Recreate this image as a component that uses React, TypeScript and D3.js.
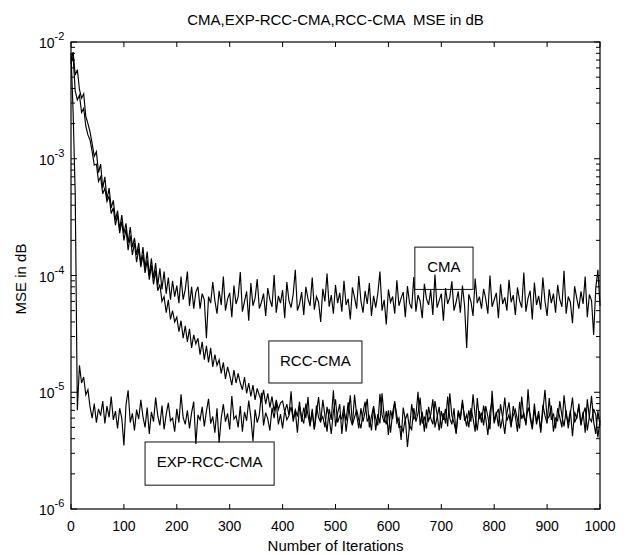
import * as d3 from "d3";

// MSE curves sampled every 4 iterations, values in units of 1e-6
const STEP = 4;

const cmaMse = [
  7000, 8200, 5200, 5800, 3900, 3300, 3600, 2300, 2000, 1700,
  1350, 1050, 1150, 760, 900, 560, 700, 450, 560, 380,
  440, 300, 360, 250, 330, 230, 280, 190, 260, 175,
  210, 150, 190, 125, 175, 115, 160, 100, 140, 95,
  128, 82, 115, 76, 108, 70, 96, 62, 90, 66,
  82, 58, 98, 62, 76, 108, 55, 80, 52, 72,
  80, 52, 70, 62, 29, 66, 58, 88, 61, 47,
  74, 56, 98, 50, 63, 71, 44, 82, 57, 66,
  107, 49, 60, 73, 41, 86, 55, 64, 93, 52,
  59, 70, 45, 78, 62, 54, 101, 48, 67, 58,
  75, 43, 88, 61, 53, 69, 112, 50, 57, 72,
  46, 80, 63, 55, 96, 51, 66, 59, 40, 77,
  60, 104, 54, 68, 47, 83, 58, 71, 49, 90,
  56, 63, 42, 79, 65, 52, 99, 61, 48, 74,
  57, 86, 45, 67, 53, 70, 108, 50, 62, 38,
  76, 59, 66, 47, 91, 55, 64, 72, 44, 81,
  58, 52, 97, 49, 68, 60, 43, 85, 63, 56,
  75, 46, 102, 53, 61, 70, 41, 78, 57, 65,
  89, 50, 59, 73, 48, 82, 55, 24, 69, 60,
  45, 94, 58, 66, 52, 77, 63, 47, 100, 54,
  62, 71, 43, 84, 57, 65, 50, 92, 59, 68,
  46, 79, 61, 53, 106, 49, 64, 74, 42, 87,
  56, 67, 51, 96, 60, 45, 76, 58, 70, 48,
  83, 62, 54, 110, 47, 66, 59, 39, 81, 64,
  52, 73, 57, 98, 44, 69, 61, 31, 78, 112,
  55,
];

const rccMse = [
  6500, 7600, 3800, 3200, 3500, 2500, 2700, 1900, 1600, 1450,
  1150, 880, 900, 640, 700, 500, 560, 430, 480, 340,
  380, 270, 330, 230, 290, 200, 250, 165, 220, 150,
  190, 130, 170, 118, 150, 105, 135, 92, 122, 84,
  110, 74, 84, 60, 66, 48, 62, 42, 50, 40,
  44, 33, 41, 29, 37, 27, 35, 24, 31, 26,
  29, 21, 27, 19, 25, 18, 24, 16.5, 21, 17,
  19, 14.5, 18, 13, 16.5, 14, 11.5, 15.5, 12, 14.5,
  12, 10.5, 13.5, 9.8, 12, 9.2, 11.5, 8.6, 10.8, 9.4,
  8.4, 10.5, 7.9, 9.8, 7.4, 9.2, 6.9, 8.6, 7.1, 8.1,
  8.4, 6.8, 7.9, 6.4, 7.5, 5.9, 7.1, 6.2, 8.3, 5.6,
  7.4, 6.0, 9.1, 5.3, 6.8, 4.8, 7.7, 6.1, 5.5, 8.6,
  6.3, 4.6, 7.2, 5.8, 10.4, 5.1, 6.6, 7.9, 4.4, 6.9,
  5.7, 8.2, 6.0, 5.2, 9.5, 6.4, 4.9, 7.3, 5.6, 6.8,
  8.8, 5.0, 6.2, 7.6, 4.7, 6.5, 5.4, 9.8, 6.1, 5.3,
  7.0, 4.5, 6.7, 8.4, 5.5, 6.0, 3.9, 7.4, 5.8, 6.6,
  4.8, 7.9, 5.9, 6.3, 10.1, 5.2, 6.8, 4.6, 7.1, 5.7,
  6.4, 8.7, 5.0, 6.1, 7.5, 4.9, 6.6, 5.4, 9.2, 6.0,
  5.3, 7.3, 4.4, 6.7, 5.8, 8.1, 6.2, 5.1, 7.0, 5.6,
  9.6, 6.3, 4.7, 6.9, 5.5, 7.7, 6.0, 4.3, 6.8, 8.5,
  5.4, 6.5, 7.2, 4.9, 6.1, 9.0, 5.7, 6.4, 5.0, 7.6,
  6.2, 4.6, 8.3, 5.9, 6.7, 5.2, 10.6, 6.0, 4.8, 7.1,
  5.6, 6.9, 4.5, 7.8, 6.3, 5.4, 8.9, 5.8, 6.6, 4.9,
  7.3, 6.1, 5.0, 9.4, 6.4, 5.5, 7.0, 4.2, 6.8, 5.9,
  8.0, 5.3, 6.5, 7.4, 4.7, 6.2, 9.3, 5.6, 4.4, 6.9,
  5.2,
];

const expRccMse = [
  8000, 2500, 500, 7, 17, 12, 13.5, 9.5, 10.5, 7.5,
  6, 8, 5.5, 7.2, 6.3, 8.4, 5.4, 7.6, 6.1, 9.2,
  5.8, 6.9, 4.9, 7.3, 6.0, 3.5, 7.8, 10.4, 5.5, 6.6,
  4.7, 7.1, 5.9, 8.6, 6.2, 5.0, 7.4, 4.4, 6.8, 5.6,
  9.0, 6.3, 5.2, 7.7, 4.8, 6.5, 8.1, 5.7, 6.0, 4.6,
  7.2, 5.5, 9.6, 6.1, 5.3, 7.0, 4.9, 6.7, 8.3, 3.6,
  6.4, 5.8, 7.5, 5.1, 6.9, 8.8, 5.4, 6.2, 4.5, 7.3,
  3.7, 6.0, 7.9, 5.6, 6.6, 4.8, 9.3, 5.9, 6.3, 5.0,
  7.6, 4.6, 6.8, 5.7, 8.5, 6.1, 3.8, 7.1, 5.5, 6.4,
  9.9, 5.2, 6.7, 5.9, 4.7, 7.4, 6.0, 8.2, 5.3, 6.5,
  4.9, 7.0, 5.8, 6.3, 10.2, 5.6, 6.9, 4.5, 7.6, 6.1,
  5.4, 8.0, 6.4, 5.1, 7.2, 4.8, 6.6, 9.1, 5.7, 6.2,
  5.0, 7.5, 6.0, 4.4, 6.8, 8.7, 5.5, 6.3, 5.9, 7.7,
  4.6, 6.5, 9.4, 5.3, 6.1, 7.1, 5.8, 4.9, 6.7, 8.3,
  5.6, 6.2, 4.7, 7.4, 6.0, 5.2, 9.7, 6.4, 5.5, 6.9,
  4.3, 7.0, 5.9, 8.1, 6.3, 5.0, 5.1, 4.6, 6.0, 3.4,
  5.2, 4.8, 7.3, 5.6, 6.6, 9.0, 5.4, 6.2, 4.9, 7.5,
  6.0, 5.3, 8.4, 6.5, 4.7, 6.9, 5.8, 7.2, 5.1, 9.8,
  6.3, 5.5, 4.5, 7.0, 6.1, 8.6, 5.7, 6.4, 5.0, 7.3,
  6.0, 4.6, 8.9, 5.9, 6.7, 5.2, 7.6, 6.2, 4.8, 10.3,
  5.6, 6.8, 5.1, 7.9, 6.0, 4.4, 6.6, 8.2, 5.4, 6.3,
  7.1, 5.8, 4.9, 9.2, 6.1, 5.5, 7.4, 6.4, 5.0, 8.0,
  5.3, 6.5, 4.7, 6.9, 10.5, 5.9, 6.2, 7.7, 4.6, 6.0,
  5.7, 8.4, 6.3, 5.1, 7.0, 4.9, 6.6, 9.0, 5.5, 6.1,
  7.5, 5.2, 6.8, 4.5, 8.7, 6.0, 5.6, 7.2, 6.4, 4.1,
  5.8,
];

const UNIT = 1e-6;
const xTicks = [0, 100, 200, 300, 400, 500, 600, 700, 800, 900, 1000];
const yDecades = [-6, -5, -4, -3, -2];

// text boxes: [label, iter from, iter to, mse top, mse bottom]
const notes: [string, number, number, number, number][] = [
  ["CMA", 650, 760, 1.75e-4, 7.6e-5],
  ["RCC-CMA", 374, 550, 2.75e-5, 1.2e-5],
  ["EXP-RCC-CMA", 140, 384, 3.75e-6, 1.6e-6],
];

const W = 629;
const H = 555;
const left = 71;
const right = 600;
const top = 42;
const bottom = 509;
const font = "'Liberation Sans', Arial, sans-serif";

export default function App() {
  const x = d3.scaleLinear().domain([0, 1000]).range([left, right]);
  const y = d3.scaleLog().domain([1e-6, 1e-2]).range([bottom, top]);

  const line = d3
    .line<number>()
    .x((d, i) => x(i * STEP))
    .y((d) => y(d * UNIT));

  const minor = y.ticks().filter((t) => {
    const m = Math.round(t / Math.pow(10, Math.floor(Math.log10(t) + 1e-9)));
    return m !== 1;
  });

  return (
    <svg
      width={W}
      height={H}
      style={{ position: "absolute", left: 0, top: 0, background: "#fff" }}
      fontFamily={font}
    >
      <rect x={0} y={0} width={W} height={H} fill="#fff" />
      {[cmaMse, rccMse, expRccMse].map((s, k) => (
        <path key={k} d={line(s) || ""} fill="none" stroke="#000" strokeWidth={1.15} strokeLinejoin="miter" />
      ))}

      {/* frame */}
      <rect x={left} y={top} width={right - left} height={bottom - top} fill="none" stroke="#000" strokeWidth={1.2} />

      {/* x ticks */}
      {xTicks.map((t) => (
        <g key={"x" + t}>
          <line x1={x(t)} x2={x(t)} y1={bottom} y2={bottom - 5} stroke="#000" />
          <line x1={x(t)} x2={x(t)} y1={top} y2={top + 5} stroke="#000" />
          <text x={x(t)} y={531} fontSize={14} textAnchor="middle">
            {t}
          </text>
        </g>
      ))}

      {/* y ticks */}
      {yDecades.map((e) => {
        const py = y(Math.pow(10, e));
        return (
          <g key={"y" + e}>
            <line x1={left} x2={left + 6} y1={py} y2={py} stroke="#000" />
            <line x1={right} x2={right - 6} y1={py} y2={py} stroke="#000" />
            <text x={39} y={py + 6} fontSize={14}>
              10
              <tspan dy={-8} fontSize={11}>
                {e}
              </tspan>
            </text>
          </g>
        );
      })}
      {minor.map((t, i) => (
        <g key={"m" + i}>
          <line x1={left} x2={left + 4} y1={y(t)} y2={y(t)} stroke="#000" />
          <line x1={right} x2={right - 4} y1={y(t)} y2={y(t)} stroke="#000" />
        </g>
      ))}

      {/* annotations */}
      {notes.map(([label, i0, i1, v0, v1]) => (
        <g key={label}>
          <rect
            x={x(i0)}
            y={y(v0)}
            width={x(i1) - x(i0)}
            height={y(v1) - y(v0)}
            fill="none"
            stroke="#111"
            strokeWidth={1}
          />
          <text x={(x(i0) + x(i1)) / 2} y={y(v0) + 25} fontSize={15} textAnchor="middle">
            {label}
          </text>
        </g>
      ))}

      <text x={(left + right) / 2} y={25} fontSize={15} textAnchor="middle" style={{ whiteSpace: "pre" }}>
        {"CMA,EXP-RCC-CMA,RCC-CMA  MSE in dB"}
      </text>
      <text x={(left + right) / 2} y={551} fontSize={15} textAnchor="middle">
        Number of Iterations
      </text>
      <text transform={`translate(26,279) rotate(-90)`} fontSize={15} textAnchor="middle">
        MSE in dB
      </text>
    </svg>
  );
}
